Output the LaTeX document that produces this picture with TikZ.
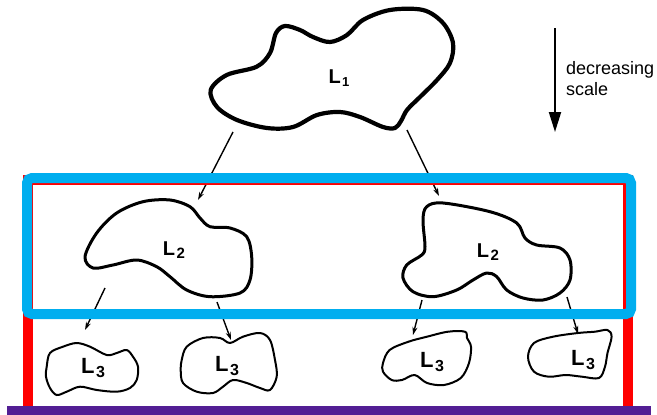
\documentclass[tikz,border=0pt]{standalone}
\usepackage{fontspec}
\setmainfont{Liberation Sans}
\usetikzlibrary{arrows.meta}
\definecolor{frameblue}{RGB}{0,174,239}
\definecolor{framered}{RGB}{255,0,0}
\definecolor{barpurple}{RGB}{82,30,148}
\newcommand{\lvl}[4]{{\fontsize{#1}{#1}\selectfont\bfseries L}\kern1.5pt\raisebox{-#4pt}{\fontsize{#2}{#2}\selectfont\bfseries #3}}
\tikzset{
  blobA/.style={line width=4.2pt, line join=round},
  blobB/.style={line width=3pt, line join=round},
  blobC/.style={line width=2pt, line join=round},
  conn/.style={line width=1.4pt, -{Stealth[length=8pt,width=5pt]}},
  lab/.style={inner sep=0pt},
}
\begin{document}
\begin{tikzpicture}[x=1pt,y=-1pt]
\useasboundingbox (0,0) rectangle (657,415);
\fill[white] (0,0) rectangle (657,415);

% blobs
\draw[blobA] plot[smooth cycle, tension=0.55] coordinates {(210.7,90) (226.7,75) (256.7,66.7) (270,53) (276,33) (285,26) (300,30) (313,37) (330,42) (347,35) (363,20) (390,10) (423,10) (443,23) (453,43) (450,63) (437,80) (420,97) (407,110) (401,121) (395,128) (383,127) (360,117) (340,112) (317,115) (293,127) (267,128) (237,120) (217,107)};
\node[lab] (l1) at (339,78) {\lvl{20}{13}{1}{3}};

\draw[blobB] plot[smooth cycle, tension=0.55] coordinates {(85,256.7) (96.7,233) (116.7,213) (143,201.7) (170,200) (190,206.7) (200,218) (210,226.7) (230,228) (246.7,236.7) (251.7,256.7) (250,280) (240,293) (210,296.7) (186.7,290) (170,276.7) (156.7,266.7) (136.7,260) (113,265) (93,268)};
\node[lab] (l2a) at (174,250) {\lvl{20}{15}{2}{3}};

\draw[blobB] plot[smooth cycle, tension=0.55] coordinates {(426.7,206.7) (443,203) (490,211.7) (516.7,223) (525,238) (536.7,245) (560,248) (570,260) (570,280) (560,293) (543,300) (523,298) (506.7,290) (496.7,276.7) (486.7,273) (473,280) (456.7,290) (433,296.7) (413,291.7) (403,278) (406.7,265) (421.7,255) (425,246.7) (423,220)};
\node[lab] (l2b) at (488,252) {\lvl{20}{15}{2}{3}};

\draw[blobC] plot[smooth cycle, tension=0.55] coordinates {(46.7,366.7) (50,353) (63,346.7) (76.7,343) (90,346.7) (106.7,355) (116.7,353) (126.7,350) (133,356.7) (138,366.7) (136.7,380) (130,388) (116.7,391.7) (96.7,390) (80,386.7) (66.7,391.7) (56.7,395) (50,388) (46,376.7)};
\node[lab] (l3a) at (93,368) {\lvl{22}{16}{3}{4}};

\draw[blobC] plot[smooth cycle, tension=0.55] coordinates {(181.7,360) (186.7,346.7) (203,338) (220,338) (230,343) (243,336.7) (260,333) (270,340) (275,360) (276.7,376.7) (270,390) (260,388) (246.7,383) (233,380) (223,386.7) (213,393) (196.7,391.7) (183,383) (180.7,370)};
\node[lab] (l3b) at (227,366) {\lvl{22}{16}{3}{4}};

\draw[blobC] plot[smooth cycle, tension=0.55] coordinates {(383,363) (389.6,350) (408.5,341.7) (427,336.7) (448,331.7) (465,331.7) (467,338) (471,346.7) (469,363) (460.8,378) (444,385) (427,383) (414.7,375) (402,380) (391.7,380) (383,371.7)};
\node[lab] (l3c) at (432,362) {\lvl{22}{16}{3}{4}};

\draw[blobC] plot[smooth cycle, tension=0.55] coordinates {(528,357) (534,343) (553,336.7) (578,333) (595,331.7) (607.5,330) (611.6,336.7) (607.5,353) (605,366.7) (599,378) (582,376.7) (565.6,375) (548.8,376.7) (534,371.7)};
\node[lab] (l3d) at (583,360) {\lvl{22}{16}{3}{4}};

% connector ends
\coordinate (a1s) at (233,132); \coordinate (a1e) at (198,200);
\coordinate (a2s) at (407,130); \coordinate (a2e) at (439,196);
\coordinate (b1s) at (105,288); \coordinate (b1e) at (85,330);
\coordinate (b2s) at (217,302); \coordinate (b2e) at (231,340);
\coordinate (c1s) at (422,300); \coordinate (c1e) at (413,335);
\coordinate (c2s) at (567,297); \coordinate (c2e) at (578,334);
\draw[conn] (a1s) -- (a1e);
\draw[conn] (a2s) -- (a2e);
\draw[conn] (b1s) -- (b1e);
\draw[conn] (b2s) -- (b2e);
\draw[conn] (c1s) -- (c1e);
\draw[conn] (c2s) -- (c2e);

% scale arrow
\coordinate (sTop) at (555,28);
\coordinate (sBot) at (555,132);
\draw[line width=2pt, -{Triangle[length=20pt,width=12pt]}] (sTop) -- (sBot);
\node[anchor=west, inner sep=0pt, align=left, font=\fontsize{18}{21}\selectfont] (txt) at (566,79) {decreasing\\scale};

% frames
\draw[framered, line width=10pt] (28,415) -- (28,180) -- (628,180) -- (628,415);
\draw[frameblue, line width=10pt, rounded corners=5pt] (27,178) rectangle (631,314);
\fill[barpurple] (7,406) rectangle (651,415);
\end{tikzpicture}
\end{document}
